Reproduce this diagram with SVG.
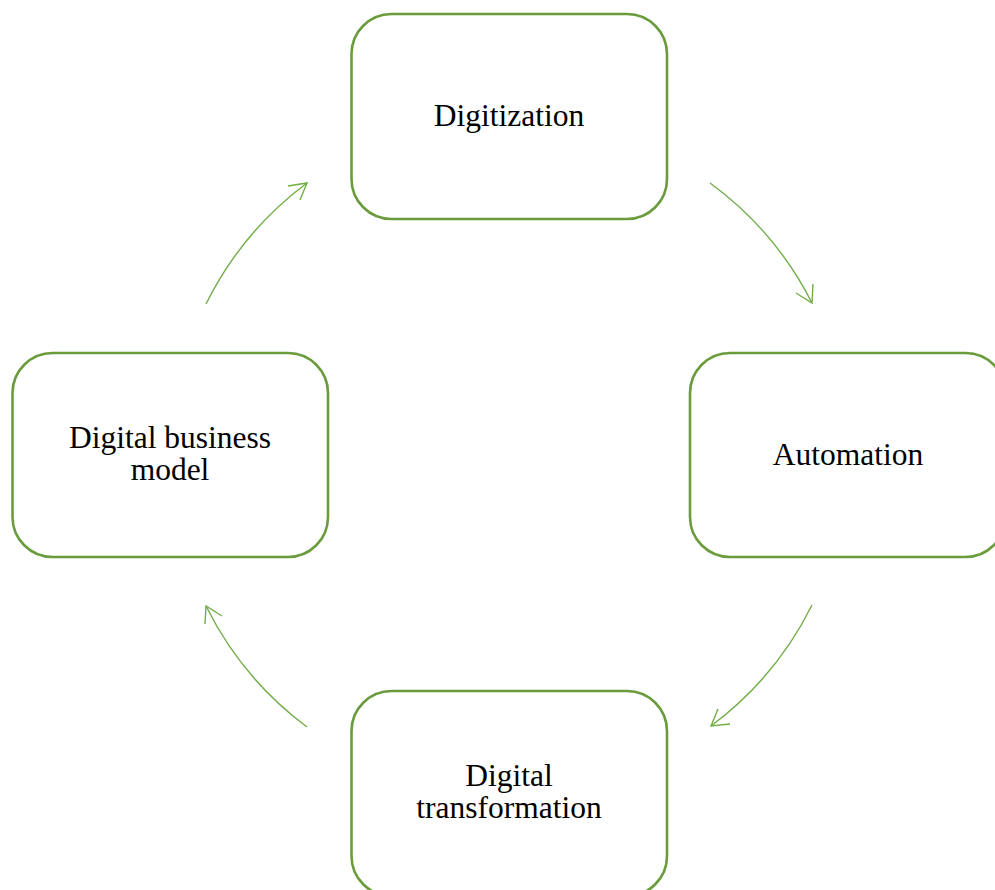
<svg xmlns="http://www.w3.org/2000/svg" width="995" height="890" viewBox="0 0 995 890">
<style>
.box{fill:#fff;stroke:#6a9b3d;stroke-width:2.6}
.lbl{font-family:"Liberation Serif","Times New Roman",serif;font-size:31.5px;fill:#000;text-anchor:middle}
.con{fill:none;stroke:#72ad4a;stroke-width:1.4}
</style>
<rect width="995" height="890" fill="#fff"/>
<g id="connectors">
<path class="con" d="M710,183 A338,338 0 0 1 812,303"/>
<path class="con" d="M796,293 L812,303 L813,284"/>
<path class="con" d="M812,605 A338,338 0 0 1 711,726"/>
<path class="con" d="M718,709 L711,726 L730,724"/>
<path class="con" d="M307,727 A338,338 0 0 1 206,606"/>
<path class="con" d="M205,624 L206,606 L222,616"/>
<path class="con" d="M206,304 A338,338 0 0 1 307,183"/>
<path class="con" d="M288,186 L307,183 L300,200"/>
</g>
<g id="digitization">
<rect class="box" x="351.5" y="14" width="315.5" height="205" rx="40"/>
<text class="lbl" x="509" y="126">Digitization</text>
</g>
<g id="automation">
<rect class="box" x="690" y="353" width="315.5" height="204" rx="40"/>
<text class="lbl" x="848" y="465">Automation</text>
</g>
<g id="digital-transformation">
<rect class="box" x="351.5" y="691" width="315.5" height="205" rx="40"/>
<text class="lbl" x="509" y="786">Digital</text>
<text class="lbl" x="509" y="818">transformation</text>
</g>
<g id="digital-business-model">
<rect class="box" x="12.5" y="353" width="315.5" height="204" rx="40"/>
<text class="lbl" x="170" y="448">Digital business</text>
<text class="lbl" x="170" y="480">model</text>
</g>
</svg>
